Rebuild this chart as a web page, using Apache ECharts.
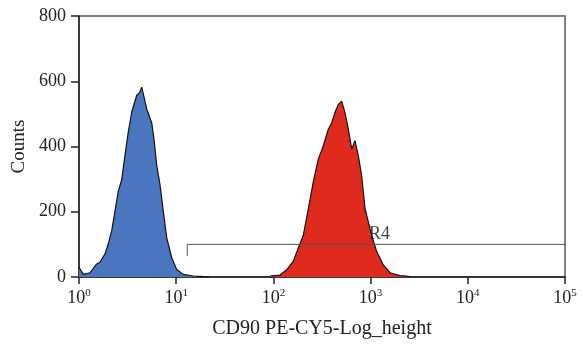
<!DOCTYPE html>
<html>
<head>
<meta charset="utf-8">
<script src="https://cdn.jsdelivr.net/npm/echarts@6/dist/echarts.min.js"></script>
<style>
  html, body { margin: 0; padding: 0; background: #fff; }
  #chart { width: 582px; height: 344px; }
</style>
</head>
<body>
<div id="chart"></div>
<script>
// histogram outline (x = fluorescence, y = counts)
const blueX = [1.0, 1.024, 1.107, 1.298, 1.521, 1.644, 1.851, 2.002, 2.17, 2.346, 2.537, 2.75, 2.974, 3.216, 3.485, 3.924, 4.2, 4.417, 4.6, 4.972, 5.597, 5.909, 6.301, 6.813, 7.366, 7.986, 8.989, 10.12, 11.83, 14.99, 17.5, 22]
const blueY = [30, 28, 8, 13, 40, 45, 71, 102, 142, 202, 263, 298, 374, 445, 505, 557, 565, 582, 560, 515, 473, 423, 343, 283, 202, 121, 59, 23, 8, 3, 2, 0]

const redX = [92.3, 116.9, 137, 160, 180, 203, 229, 257, 290, 326, 367, 398, 430, 465, 504, 545, 590, 639, 691, 747, 809, 876, 946, 1025, 1155, 1351, 1585, 2005, 2350, 2665]
const redY = [3, 6, 22, 48, 88, 128, 210, 291, 362, 402, 453, 473, 504, 529, 539, 504, 453, 392, 418, 372, 311, 210, 170, 128, 78, 37, 13, 4, 3, 0]

// gate marker R4
const gateX = [13, 100000]
const gateY = 100
const gateTickY = 65
const gateLabel = 'R4'
const gateLabelX = 960

const decades = [0, 1, 2, 3, 4, 5]
const yTicks = [0, 200, 400, 600, 800]

const font = 'Liberation Serif'
const chart = echarts.init(document.getElementById('chart'))

const pairs = (xs, ys) => xs.map((x, i) => [x, ys[i]])

chart.setOption({
  animation: false,
  grid: {
    left: 79, right: 17, top: 16, bottom: 65,
    show: true, borderColor: '#555', borderWidth: 1.5
  },
  xAxis: {
    type: 'log',
    logBase: 10,
    min: Math.pow(10, decades[0]),
    max: Math.pow(10, decades[decades.length - 1]),
    name: 'CD90 PE-CY5-Log_height',
    nameLocation: 'middle',
    nameGap: 42,
    nameTextStyle: { fontFamily: font, fontSize: 20, color: '#222' },
    axisLine: { onZero: false, lineStyle: { color: '#222', width: 1.5 } },
    axisTick: { length: 7, lineStyle: { color: '#222', width: 1.5 } },
    minorTick: { show: false },
    splitLine: { show: false },
    axisLabel: {
      margin: 11,
      formatter: v => '{b|10}{s|' + Math.round(Math.log10(v)) + '}',
      rich: {
        b: { fontFamily: font, fontSize: 18, color: '#222' },
        s: { fontFamily: font, fontSize: 11, color: '#222', padding: [0, 0, 10, 0] }
      }
    }
  },
  yAxis: {
    type: 'value',
    min: yTicks[0],
    max: yTicks[yTicks.length - 1],
    interval: 200,
    name: 'Counts',
    nameLocation: 'middle',
    nameGap: 49,
    nameTextStyle: { fontFamily: font, fontSize: 19, color: '#222' },
    axisLine: { show: true, lineStyle: { color: '#222', width: 1.5 } },
    axisTick: { show: true, length: 8, lineStyle: { color: '#222', width: 1.5 } },
    splitLine: { show: false },
    axisLabel: { margin: 13, fontFamily: font, fontSize: 18, color: '#222' }
  },
  series: [
    {
      type: 'line',
      data: pairs(blueX, blueY),
      symbol: 'none',
      lineStyle: { color: '#111', width: 1.2 },
      areaStyle: { color: '#4a76c0', opacity: 1 },
      z: 2
    },
    {
      type: 'line',
      data: pairs(redX, redY),
      symbol: 'none',
      lineStyle: { color: '#111', width: 1.2 },
      areaStyle: { color: '#e02a1e', opacity: 1 },
      z: 2
    },
    {
      type: 'line',
      data: [[gateX[0], gateTickY], [gateX[0], gateY], [gateX[1], gateY]],
      symbol: 'none',
      lineStyle: { color: '#555', width: 1 },
      z: 3
    },
    {
      type: 'scatter',
      data: [[gateLabelX, gateY]],
      symbolSize: 0,
      label: {
        show: true,
        formatter: gateLabel,
        position: [0, -19],
        align: 'left',
        verticalAlign: 'top',
        fontFamily: font,
        fontSize: 18,
        color: '#111'
      },
      z: 4
    }
  ]
})
</script>
</body>
</html>
